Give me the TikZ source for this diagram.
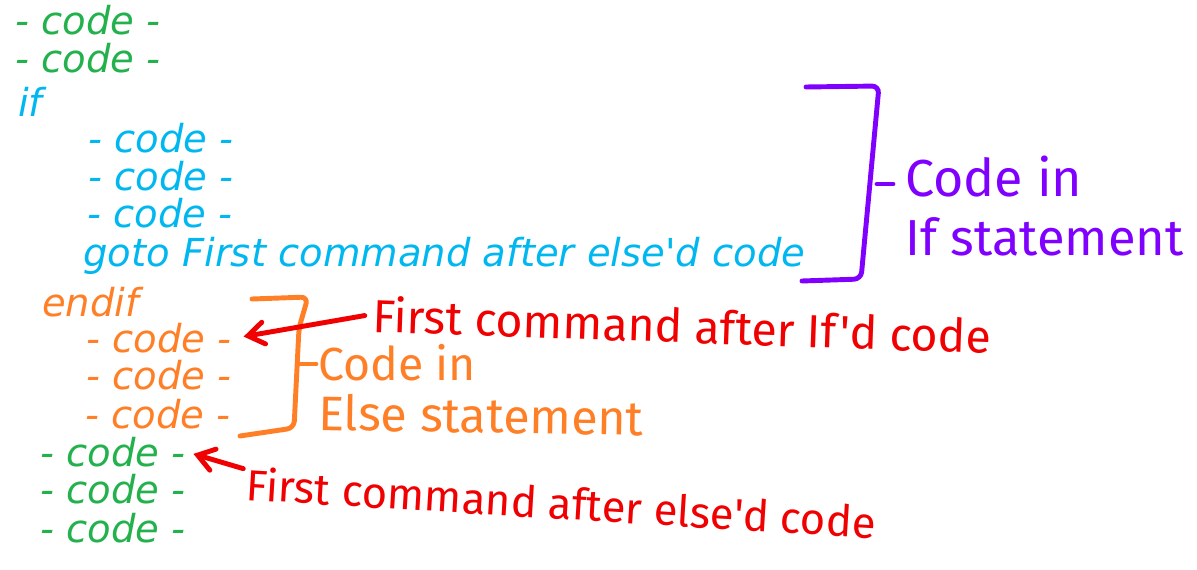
\documentclass[tikz,border=0pt]{standalone}
\usepackage{fontspec}
\usepackage{tikz}
\usetikzlibrary{arrows.meta, calc}
\newfontfamily\codefont{DejaVu Sans}
\newfontfamily\handfont{Fira Sans}
\definecolor{codegreen}{RGB}{34,177,76}
\definecolor{codeblue}{RGB}{0,183,239}
\definecolor{codeorange}{RGB}{255,127,39}
\definecolor{notepurple}{RGB}{128,0,255}
\definecolor{notered}{RGB}{240,0,0}

\begin{document}
\begin{tikzpicture}[x=0.025cm, y=-0.025cm,
  codeline/.style={anchor=base west, inner sep=0pt, font=\codefont\itshape\fontsize{27.4}{30}\selectfont},
  handnote/.style={anchor=base west, inner sep=0pt, font=\handfont\fontsize{#1}{#1}\selectfont},
  bracketline/.style={line width=3.5pt, line cap=round, line join=round, rounded corners=5pt},
  pointer/.style={notered, line width=3.5pt, line cap=round,
    -{Straight Barb[length=4mm, width=5.5mm, line cap=round]}}]
  \useasboundingbox (0,0) rectangle (1197,570);

  % code before the if
  \node[codeline, codegreen] (pre1) at (15,35) {- code -};
  \node[codeline, codegreen] (pre2) at (15,73) {- code -};

  % if block
  \node[codeline, codeblue] (ifkw) at (18,117) {if};
  \node[codeline, codeblue] (if1) at (88,153) {- code -};
  \node[codeline, codeblue] (if2) at (88,191) {- code -};
  \node[codeline, codeblue] (if3) at (87,228) {- code -};
  \node[codeline, codeblue] (ifgoto) at (83,267) {goto First command after else'd code};

  % else block
  \node[codeline, codeorange] (endkw) at (42,317) {endif};
  \node[codeline, codeorange] (else1) at (86,353) {- code -};
  \node[codeline, codeorange] (else2) at (86,390) {- code -};
  \node[codeline, codeorange] (else3) at (85,428) {- code -};

  % code after the else
  \node[codeline, codegreen] (post1) at (40,466) {- code -};
  \node[codeline, codegreen] (post2) at (40,503) {- code -};
  \node[codeline, codegreen] (post3) at (40,542) {- code -};

  % bracket round the if block
  \draw[bracketline, notepurple] (806,87) -- (879,86) -- (861,279) -- (802,281);
  \draw[bracketline, notepurple] (877,184) -- (893,184);
  \node[handnote=37, notepurple] (ifnoteA) at (905,197) {Code in};
  \node[handnote=36, notepurple] (ifnoteB) at (905,256) {If statement};

  % bracket round the else block
  \draw[bracketline, codeorange] (252,299) -- (308,297) -- (299,328) -- (294,428) -- (240,436);
  \draw[bracketline, codeorange] (298,364) -- (316,364);
  \node[handnote=33, codeorange] (elsenoteA) at (318,380) {Code in};
  \node[handnote=34.5, codeorange, rotate=-1] (elsenoteB) at (318,430) {Else statement};

  % jump targets
  \node[handnote=33, notered, rotate=-2] (firstif) at (372,332) {First command after If'd code};
  \node[handnote=31, notered, rotate=-3.5] (firstelse) at (245,500) {First command after else'd code};

  \draw[pointer, shorten <=2mm, shorten >=3mm] (firstif.west) -- (else1.east);
  \draw[pointer, shorten <=1mm, shorten >=2mm] ($(firstelse.north west)+(0,4)$) -- (post1.east);
\end{tikzpicture}
\end{document}
